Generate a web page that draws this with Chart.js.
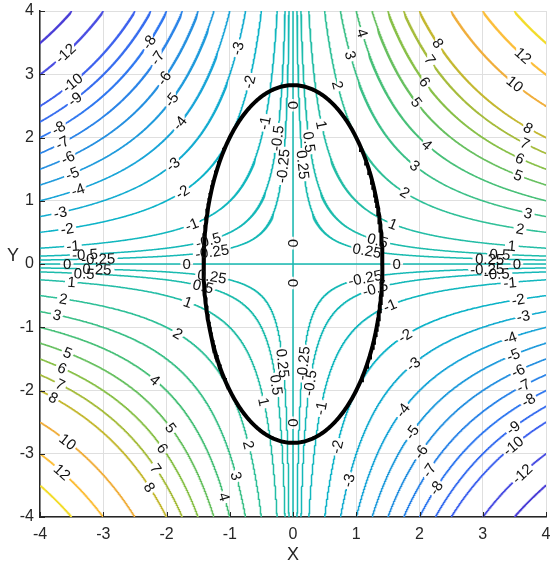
<!DOCTYPE html>
<html>
<head>
<meta charset="utf-8">
<script src="https://cdn.jsdelivr.net/npm/chart.js@4.4.1/dist/chart.umd.min.js"></script>
<style>
html, body { margin: 0; background: #fff; overflow: hidden; }
#wrap { width: 550px; height: 564px; position: relative; }
#c { display: block; }
</style>
</head>
<body>
<div id="wrap"><canvas id="c"></canvas></div>
<script>
// contour levels of f(x, y) = x*y
const levels = [-14, -12, -10, -9, -8, -7, -6, -5, -4, -3, -2, -1, -0.5, -0.25, 0,
                0.25, 0.5, 1, 2, 3, 4, 5, 6, 7, 8, 10, 12, 14];
const tickValues = [-4, -3, -2, -1, 0, 1, 2, 3, 4];
// constraint ellipse, semi-axes along x and y
const ellipseSemiAxes = [1.414, 2.828];
// where the inline labels sit: [level, x, y] (snapped onto the curve below)
const labelSpots = [
  [-12, -3.6, 3.3], [-10, -3.49, 2.91], [-9, -3.45, 2.62], [-8, -3.71, 2.15], [-7, -3.65, 1.91],
  [-6, -3.56, 1.68], [-5, -3.49, 1.44], [-4, -3.4, 1.17], [-3, -3.68, 0.8], [-2, -3.57, 0.52],
  [-1, -3.48, 0.3], [-0.5, -3.29, 0.11], [-0.25, -3.08, 0.06],
  [-8, -2.23, 3.51], [-7, -2.15, 3.26], [-6, -2.02, 2.94], [-5, -1.9, 2.6], [-4, -1.75, 2.23],
  [-3, -1.9, 1.6], [-2, -1.75, 1.12], [-1, -1.6, 0.65], [-0.5, -1.34, 0.38], [-0.25, -1.28, 0.22],
  [-3, -0.87, 3.41], [-2, -0.68, 2.88], [-1, -0.44, 2.23], [-0.5, -0.28, 1.99], [-0.25, -0.2, 1.55],
  [4, 1.09, 3.65], [3, 0.82, 3.3], [2, 0.63, 2.83], [1, 0.43, 2.2], [0.5, 0.19, 1.93], [0.25, 0.11, 1.57],
  [8, 2.25, 3.49], [7, 2.17, 3.23], [6, 2.04, 2.88], [5, 1.93, 2.56], [4, 2.12, 1.85], [3, 1.93, 1.52],
  [2, 1.77, 1.09], [1, 1.58, 0.65], [0.5, 1.34, 0.35], [0.25, 1.17, 0.19],
  [12, 3.64, 3.23], [10, 3.51, 2.8], [8, 3.72, 2.09], [7, 3.67, 1.91], [6, 3.59, 1.64], [5, 3.56, 1.41],
  [3, 3.72, 0.8], [2, 3.59, 0.54], [1, 3.46, 0.3], [0.5, 3.27, 0.14], [0.25, 3.11, 0.06],
  [-0.25, 1.14, -0.25], [-0.5, 1.3, -0.41], [-1, 1.53, -0.68], [-2, 1.77, -1.19], [-3, 1.9, -1.6],
  [-0.25, 3.07, -0.11], [-0.5, 3.22, -0.2], [-1, 3.43, -0.33], [-2, 3.56, -0.62], [-3, 3.64, -0.84],
  [-4, 3.43, -1.23], [-5, 3.48, -1.44], [-6, 3.56, -1.71], [-7, 3.64, -1.94], [-8, 3.72, -2.18],
  [-9, 3.48, -2.62], [-10, 3.48, -2.86], [-12, 3.62, -3.37],
  [-4, 1.8, -2.31], [-5, 1.93, -2.66], [-6, 2.06, -2.97], [-7, 2.17, -3.26], [-8, 2.28, -3.54],
  [-0.25, 0.16, -1.57], [-0.5, 0.19, -1.88], [-1, 0.47, -2.28], [-2, 0.71, -2.89], [-3, 0.89, -3.42],
  [0.25, -3.1, -0.13], [0.5, -3.3, -0.2], [1, -3.5, -0.3], [2, -3.63, -0.6], [3, -3.73, -0.84],
  [5, -3.56, -1.41], [6, -3.65, -1.68], [7, -3.68, -1.91], [8, -3.79, -2.18], [10, -3.56, -2.89],
  [12, -3.65, -3.34],
  [0.25, -1.28, -0.25], [0.5, -1.42, -0.38], [1, -1.66, -0.65], [2, -1.82, -1.15],
  [4, -2.18, -1.91], [5, -1.98, -2.59], [6, -2.1, -2.91], [7, -2.21, -3.23], [8, -2.31, -3.53],
  [0.25, -0.2, -1.57], [0.5, -0.28, -1.91], [1, -0.52, -2.18], [2, -0.73, -2.86], [3, -0.96, -3.35],
  [4, -1.12, -3.68],
  [0, -3.57, 0], [0, -1.68, 0], [0, 1.64, 0], [0, 3.54, 0],
  [0, 0, 2.51], [0, 0, 0.33], [0, 0, -0.3], [0, 0, -2.51]
];

// parula-like colour stops
const colorStops = [[-14, '#4a3dd6'], [-12, '#4a4ee2'], [-10, '#3e62ee'], [-8, '#3078f0'],
  [-6, '#2690e0'], [-4, '#1aa5d8'], [-2, '#0db3c8'], [0, '#17bab3'], [2, '#30c098'],
  [4, '#48c078'], [6, '#88c048'], [8, '#c4b830'], [10, '#f0ae3c'], [12, '#fcbe3a'], [14, '#f2dc2a']];

const FONT = '"Liberation Sans", Arial, Helvetica, sans-serif';
const LABEL_FONT = '15px ' + FONT;
const PX = 506 / 8; // pixels per data unit (square axes)

function rgb(h) { return [1, 3, 5].map(i => parseInt(h.substr(i, 2), 16)); }
function levelColor(c) {
  for (let i = 0; i < colorStops.length - 1; i++) {
    const [c0, h0] = colorStops[i], [c1, h1] = colorStops[i + 1];
    if (c >= c0 && c <= c1) {
      const f = (c - c0) / (c1 - c0), a = rgb(h0), b = rgb(h1);
      return 'rgb(' + a.map((v, k) => Math.round(v + (b[k] - v) * f)).join(',') + ')';
    }
  }
  return colorStops[colorStops.length - 1][1];
}

const mctx = document.createElement('canvas').getContext('2d');
mctx.font = LABEL_FONT;

const placed = labelSpots.map(([c, x, y]) => {
  let a;
  if (c === 0) {
    if (Math.abs(x) > Math.abs(y)) { y = 0; a = 0; } else { x = 0; a = Math.PI / 2; }
  } else {
    if (Math.abs(x) >= Math.abs(y)) y = c / x; else x = c / y;
    a = Math.atan(c / (x * x));
  }
  const txt = String(c);
  return { c, x, y, a, txt, r: (mctx.measureText(txt).width / 2 + 2) / PX };
});

function cut(c, pts) {
  const mine = placed.filter(p => p.c === c);
  return pts.map(p => (p.y !== null && mine.some(l => Math.hypot(p.x - l.x, p.y - l.y) < l.r)) ? { x: p.x, y: null } : p);
}

function branch(c, sx) {
  const pts = [], a = Math.log(Math.abs(c) / 4), b = Math.log(4), n = 800;
  for (let i = 0; i <= n; i++) {
    const x = sx * Math.exp(a + (b - a) * i / n);
    pts.push({ x, y: c / x });
  }
  return pts;
}

const datasets = [];
const ellipse = [];
for (let i = 0; i <= 400; i++) {
  const t = 2 * Math.PI * i / 400;
  ellipse.push({ x: ellipseSemiAxes[0] * Math.cos(t), y: ellipseSemiAxes[1] * Math.sin(t) });
}
datasets.push({ data: ellipse, borderColor: '#000', borderWidth: 4, order: 0 });

levels.forEach(c => {
  let pts;
  if (c === 0) {
    const h = [], v = [];
    for (let i = 0; i <= 800; i++) h.push({ x: -4 + 8 * i / 800, y: 0 });
    for (let i = 0; i <= 800; i++) v.push({ x: 0, y: -4 + 8 * i / 800 });
    pts = cut(0, h.concat([{ x: 0, y: null }], v));
  } else {
    pts = cut(c, branch(c, 1).concat([{ x: 0, y: null }], branch(c, -1)));
  }
  datasets.push({ data: pts, borderColor: levelColor(c), borderWidth: 1.5, order: 1 });
});

const annot = {
  id: 'annot',
  afterDatasetsDraw(chart) {
    const { ctx, scales: { x, y }, chartArea: ca } = chart;
    ctx.save();
    ctx.font = LABEL_FONT;
    ctx.fillStyle = '#111';
    ctx.textAlign = 'center';
    ctx.textBaseline = 'middle';
    placed.forEach(p => {
      ctx.save();
      ctx.translate(x.getPixelForValue(p.x), y.getPixelForValue(p.y));
      ctx.rotate(p.a);
      ctx.fillText(p.txt, 0, 1);
      ctx.restore();
    });
    // inward ticks on the left and bottom axes
    ctx.strokeStyle = '#262626';
    ctx.lineWidth = 1;
    tickValues.forEach(v => {
      const px = Math.round(x.getPixelForValue(v)) + 0.5;
      const py = Math.round(y.getPixelForValue(v)) + 0.5;
      ctx.beginPath();
      ctx.moveTo(px, ca.bottom); ctx.lineTo(px, ca.bottom - 5);
      ctx.moveTo(ca.left, py); ctx.lineTo(ca.left + 5, py);
      ctx.stroke();
    });
    ctx.font = '18px ' + FONT;
    ctx.fillStyle = '#262626';
    ctx.fillText('X', (ca.left + ca.right) / 2, 555);
    ctx.fillText('Y', 13, 256);
    ctx.restore();
  }
};

const tickFont = { family: FONT, size: 16 };
new Chart(document.getElementById('c'), {
  type: 'scatter',
  data: { datasets },
  options: {
    responsive: true,
    maintainAspectRatio: false,
    animation: false,
    showLine: true,
    spanGaps: false,
    elements: { point: { radius: 0 }, line: { tension: 0 } },
    layout: { padding: { top: 11, right: 4, left: 0, bottom: 0 } },
    plugins: { legend: { display: false }, tooltip: { enabled: false } },
    scales: {
      x: {
        type: 'linear', min: -4, max: 4,
        afterBuildTicks: ax => { ax.ticks = tickValues.map(v => ({ value: v })); },
        ticks: { font: tickFont, color: '#262626', padding: 8, maxRotation: 0 },
        grid: { color: '#dfdfdf', drawTicks: false },
        border: { color: '#262626', width: 1.5 },
        afterFit: s => { s.height = 47; s.paddingLeft = 0; s.paddingRight = 0; }
      },
      y: {
        type: 'linear', min: -4, max: 4,
        afterBuildTicks: ax => { ax.ticks = tickValues.map(v => ({ value: v })); },
        ticks: { font: tickFont, color: '#262626', padding: 6 },
        grid: { color: '#dfdfdf', drawTicks: false },
        border: { color: '#262626', width: 1.5 },
        afterFit: s => { s.width = 40; s.paddingTop = 0; s.paddingBottom = 0; }
      }
    }
  },
  plugins: [annot]
});
</script>
</body>
</html>
